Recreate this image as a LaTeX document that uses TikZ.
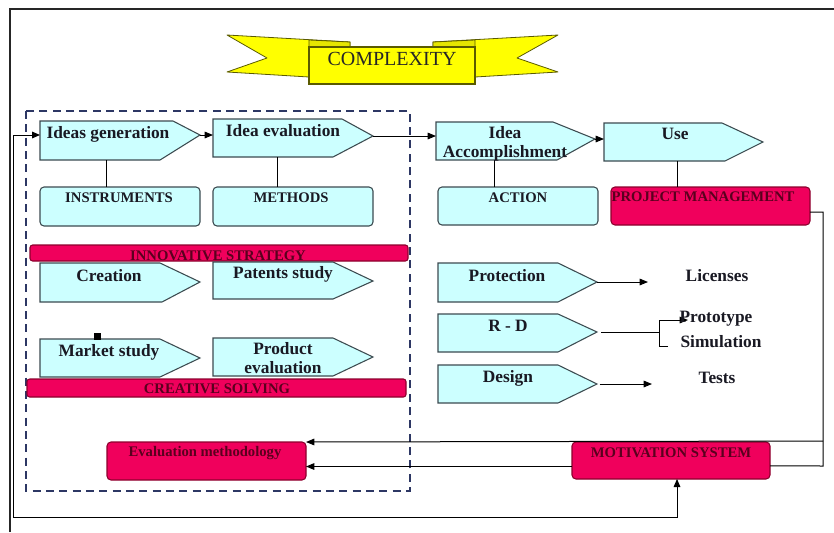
\documentclass[tikz,border=0pt]{standalone}
\usepackage{fontspec}
\setmainfont{Liberation Serif}
\usetikzlibrary{arrows.meta,fit,calc}
\definecolor{cy}{RGB}{204,255,255}
\definecolor{cyb}{RGB}{60,75,80}
\definecolor{crim}{RGB}{240,0,92}
\definecolor{crimb}{RGB}{140,0,45}
\definecolor{crimt}{RGB}{90,0,30}
\definecolor{ylw}{RGB}{255,255,0}
\definecolor{ylwd}{RGB}{230,230,0}
\definecolor{ylwb}{RGB}{90,90,0}
\definecolor{navyd}{RGB}{45,55,100}
\definecolor{txt}{RGB}{25,25,35}
\tikzset{
 pentst/.style={fill=cy, draw=cyb, line width=0.8pt, line join=miter},
 body/.style={inner sep=0pt, outer sep=0pt, draw=none},
 rbox/.style={fill=cy, draw=cyb, line width=0.8pt, rounded corners=3pt, inner sep=0pt, outer sep=0pt},
 cbox/.style={fill=crim, draw=crimb, line width=0.8pt, rounded corners=3pt, inner sep=0pt, outer sep=0pt},
 big/.style={font=\fontsize{13}{15}\selectfont\bfseries, text=txt, inner sep=0pt, anchor=base},
 capt/.style={font=\fontsize{11}{13}\selectfont\bfseries, text=txt, inner sep=0pt, anchor=base},
 ccapt/.style={capt, text=crimt},
 conn/.style={line width=0.75pt, draw=black},
 arr/.style={conn, -{Triangle[length=6.3pt,width=5pt]}},
 darr/.style={conn, {Triangle[length=6pt,width=5pt]}-{Triangle[length=6pt,width=5pt]}},
}
\newcommand{\pent}[8]{%
  \draw[pentst] (#2,#3) -- (#4,#3) -- (#5,#6) -- (#7,#8) -- (#2,#8) -- cycle;
  \node[body, fit={(#2,#3) (#4,#8)}] (#1) {};
  \coordinate (#1-in) at (#2,#6);
  \coordinate (#1-out) at (#5,#6);
}
\begin{document}
\begin{tikzpicture}[x=0.75pt, y=-0.75pt]
\useasboundingbox (0,0) rectangle (834,532);
\fill[white] (0,0) rectangle (834,532);
% outer frame
\draw[line width=1.6pt, black!85] (10,532) -- (10,9) -- (834,9);
% dashed region
\draw[navyd, line width=1.5pt, dash pattern=on 6pt off 4pt] (26,111) rectangle (410,491);
% ribbon
\filldraw[fill=ylw, draw=ylwb, line width=0.6pt, line join=round] (227,35) -- (350,42) -- (350,48) -- (309,48) -- (309,77) -- (227,72) -- (267,58) -- cycle;
\filldraw[fill=ylwd, draw=ylwb, line width=0.6pt] (309,40) -- (350,42) -- (350,48) -- (309,48) -- cycle;
\filldraw[fill=ylw, draw=ylwb, line width=0.6pt, line join=round] (558,35) -- (433,42) -- (433,48) -- (475,48) -- (475,77) -- (558,72) -- (517,58) -- cycle;
\filldraw[fill=ylwd, draw=ylwb, line width=0.6pt] (475,40) -- (433,42) -- (433,48) -- (475,48) -- cycle;
\node[fill=ylw, draw=ylwb, line width=0.8pt, inner sep=0pt, fit={(309,47) (475,84)}] (cx) {};
\node[font=\fontsize{15}{17}\selectfont, text=black!85, inner sep=0pt, anchor=base] (cx-t) at (392,65) {COMPLEXITY};
% top row
\pent{ig}{40}{121}{173}{200}{135}{160}{160}
\pent{ie}{213}{119}{342}{373}{136}{333}{157}
\pent{ia}{436}{122}{553}{595}{139}{557}{160}
\pent{use}{604}{123}{722}{763}{142}{725}{161}
% second row boxes
\node[rbox, fit={(40,187) (200,226)}] (instr) {};
\node[rbox, fit={(213,187) (373,226)}] (meth) {};
\node[rbox, fit={(438,187) (598,225)}] (act) {};
\node[cbox, fit={(611,187) (810,225)}] (pm) {};
% innovative strategy bar
\node[cbox, rounded corners=2pt, fit={(30,245) (408,261)}] (inn) {};
\node[ccapt] (inn-t) at (218,260) {INNOVATIVE STRATEGY};
% left lower pentagons
\pent{cre}{40}{263}{160}{200}{282}{162}{302}
\pent{pat}{213}{262}{333}{373}{281}{333}{299}
\pent{mkt}{40}{339}{160}{200}{358}{160}{377}
\pent{pev}{213}{338}{333}{373}{357}{333}{376}
\fill (94,333) rectangle (101,340);
\node[cbox, rounded corners=2pt, fit={(27,379) (406,397)}] (crs) {};
% right pentagons
\pent{prot}{438}{263}{558}{597}{282}{558}{302}
\pent{rd}{438}{314}{558}{597}{332}{558}{352}
\pent{des}{438}{365}{558}{597}{384}{558}{403}
% bottom boxes
\node[cbox, fit={(107,442) (306,480)}] (em) {};
\node[cbox, fit={(572,442) (770,479)}] (mot) {};
% connectors top
\draw[arr] (ig-out) -- (ig-out -| ie.west);
\draw[arr] (ie-out) -- (ie-out -| ia.west);
\draw[arr] (ia-out) -- (ia-out -| use.west);
\draw[conn] (ig.south) -- (ig.south |- instr.north);
\draw[conn] (ie.south) -- (ie.south |- meth.north);
\draw[conn] (ia.south) -- (ia.south |- act.north);
\draw[conn] ([xshift=10.5pt]use.south) -- ([xshift=10.5pt]use.south |- pm.north);
% right side connectors
\coordinate (licend) at (648,282);
\draw[arr] (prot-out) -- (licend);
\coordinate (brk) at (659,332);
\coordinate (simend) at (668,346);
\coordinate (protoend) at (688,320);
\draw[conn] ([xshift=3pt]rd-out) -- (brk);
\draw[arr] (simend) -- (simend -| brk) -- (brk |- protoend) -- (protoend);
\coordinate (testend) at (652,384);
\draw[arr] ([xshift=2pt]des-out) -- (testend);
% loops
\coordinate (rc1) at (823,212);
\coordinate (rc2) at (823,466);
\coordinate (junc) at (823,441);
\draw[conn] ([yshift=-4.5pt]pm.east) -- (rc1) -- (rc2) -- ([yshift=-4pt]mot.east);
\draw[arr] (junc) -- (em.north east);
\draw[arr] ([yshift=-4.5pt]mot.west) -- ([yshift=-4.5pt]mot.west -| em.east);
\coordinate (loopc) at (13,517);
\draw[darr] (ig-in) -| (loopc) -| ([xshift=4.5pt]mot.south);
% texts
\node[big] (ig-t) at (108,138) {Ideas generation};
\node[big] (ie-t) at (283,136) {Idea evaluation};
\node[big] (ia-t1) at (505,138) {Idea};
\node[big] (ia-t2) at (505,157) {Accomplishment};
\node[big] (use-t) at (675,139) {Use};
\node[capt] (instr-t) at (119,202) {INSTRUMENTS};
\node[capt] (meth-t) at (291,202) {METHODS};
\node[capt] (act-t) at (518,202) {ACTION};
\node[ccapt] (pm-t) at (703,201) {PROJECT MANAGEMENT};
\node[big] (cre-t) at (109,281) {Creation};
\node[big] (pat-t) at (283,278) {Patents study};
\node[big] (mkt-t) at (109,356) {Market study};
\node[big] (pev-t1) at (283,354) {Product};
\node[big] (pev-t2) at (283,373) {evaluation};
\node[ccapt] (crs-t) at (217,393) {CREATIVE SOLVING};
\node[ccapt] (em-t) at (205,456) {Evaluation methodology};
\node[ccapt] (mot-t) at (671,457) {MOTIVATION SYSTEM};
\node[big] (prot-t) at (507,281) {Protection};
\node[big] (lic-t) at (717,281) {Licenses};
\node[big] (rd-t) at (508,331) {R - D};
\node[big] (proto-t) at (716,322) {Prototype};
\node[big] (sim-t) at (721,347) {Simulation};
\node[big] (des-t) at (508,382) {Design};
\node[big] (tst-t) at (717,383) {Tests};
\end{tikzpicture}
\end{document}
